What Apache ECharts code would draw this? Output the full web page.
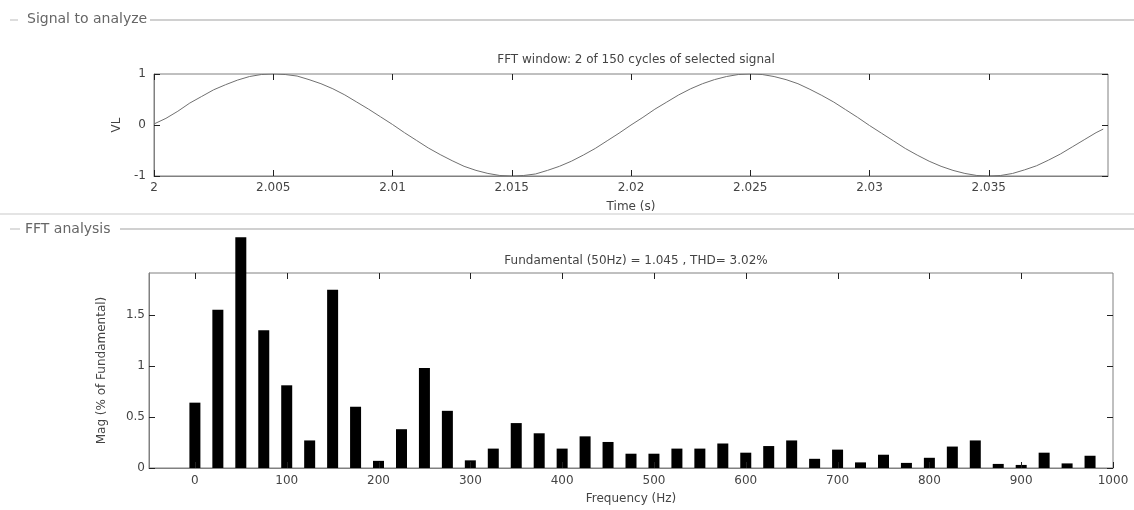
<!DOCTYPE html>
<html>
<head>
<meta charset="utf-8">
<script src="https://cdn.jsdelivr.net/npm/echarts@6/dist/echarts.min.js"></script>
<style>
html,body{margin:0;padding:0;background:#fff;}
#chart{width:1134px;height:510px;}
</style>
</head>
<body>
<div id="chart"></div>
<script>
// ---- Data ----
const timeS = [2.0000,2.0005,2.0010,2.0015,2.0020,2.0025,2.0030,2.0035,2.0040,2.0045,
  2.0050,2.0055,2.0060,2.0065,2.0070,2.0075,2.0080,2.0085,2.0090,2.0095,
  2.0100,2.0105,2.0110,2.0115,2.0120,2.0125,2.0130,2.0135,2.0140,2.0145,
  2.0150,2.0155,2.0160,2.0165,2.0170,2.0175,2.0180,2.0185,2.0190,2.0195,
  2.0200,2.0205,2.0210,2.0215,2.0220,2.0225,2.0230,2.0235,2.0240,2.0245,
  2.0250,2.0255,2.0260,2.0265,2.0270,2.0275,2.0280,2.0285,2.0290,2.0295,
  2.0300,2.0305,2.0310,2.0315,2.0320,2.0325,2.0330,2.0335,2.0340,2.0345,
  2.0350,2.0355,2.0360,2.0365,2.0370,2.0375,2.0380,2.0385,2.0390,2.0395,2.0398];
const signalVL = [0.02,0.13,0.27,0.43,0.56,0.69,0.79,0.88,0.95,0.99,
  1.00,0.99,0.96,0.89,0.81,0.71,0.59,0.45,0.31,0.16,
  0.01,-0.15,-0.30,-0.45,-0.58,-0.70,-0.81,-0.89,-0.95,-0.99,
  -1.00,-0.99,-0.96,-0.89,-0.81,-0.71,-0.59,-0.46,-0.31,-0.16,
  0.00,0.15,0.31,0.45,0.59,0.71,0.81,0.89,0.95,0.99,
  1.00,0.99,0.95,0.89,0.81,0.70,0.58,0.45,0.30,0.15,
  -0.01,-0.16,-0.31,-0.46,-0.59,-0.71,-0.81,-0.89,-0.95,-0.99,
  -1.00,-0.99,-0.95,-0.88,-0.80,-0.69,-0.57,-0.43,-0.29,-0.15,-0.08];
const freqHz = [0,25,50,75,100,125,150,175,200,225,250,275,300,325,350,375,400,425,450,475,
  500,525,550,575,600,625,650,675,700,725,750,775,800,825,850,875,900,925,950,975];
const magPct = [0.64,1.55,2.26,1.35,0.81,0.27,1.745,0.60,0.07,0.38,0.98,0.56,0.075,0.19,0.44,0.34,0.19,0.31,0.255,0.14,
  0.14,0.19,0.19,0.24,0.15,0.215,0.27,0.09,0.18,0.055,0.13,0.05,0.10,0.21,0.27,0.04,0.03,0.15,0.045,0.12];
const timeTicks = [2,2.005,2.01,2.015,2.02,2.025,2.03,2.035];
const timeTickLabels = ['2','2.005','2.01','2.015','2.02','2.025','2.03','2.035'];
const vlTicks = [-1,0,1];
const freqTicks = [0,100,200,300,400,500,600,700,800,900,1000];
const magTicks = [0,0.5,1,1.5];
const magTickLabels = ['0','0.5','1','1.5'];

const T_MIN = 2, T_MAX = 2.04, V_MIN = -1, V_MAX = 1;
const F_MIN = -50, F_MAX = 1000, M_MIN = 0, M_MAX = 1.91;

const FONT = '"DejaVu Sans", Verdana, sans-serif';
const TXT = '#444';
const FRAME = '#808080';
const TICK = '#222';
const FS = 12;
const TL = 6;

const chart = echarts.init(document.getElementById('chart'));

function baseAxis(extra) {
  return Object.assign({
    axisLine: {show: true, onZero: false, lineStyle: {color: FRAME, width: 1}},
    splitLine: {show: false},
    axisTick: {show: false}
  }, extra);
}

const pairLabel = (vals, labels) => (v) => {
  const i = vals.findIndex(t => Math.abs(t - v) < 1e-9);
  return i >= 0 ? labels[i] : '';
};
const plain = (v) => String(v);
const crisp = (p) => Math.round(p) + 0.5;

// inward tick marks drawn through the axes' own scales
function xTickSeries(xi, yi, vals, yMin, yMax, skipTopLast) {
  return {type: 'custom', xAxisIndex: xi, yAxisIndex: yi, silent: true, clip: false, z: 10,
    data: vals.map(v => [v, yMin]),
    renderItem: (params, api) => {
      const v = api.value(0);
      const b = api.coord([v, yMin]), t = api.coord([v, yMax]);
      const x = crisp(b[0]);
      const ch = [{type: 'line', shape: {x1: x, y1: b[1], x2: x, y2: b[1] - TL}, style: {stroke: TICK, lineWidth: 1}}];
      if (!(skipTopLast && params.dataIndex === vals.length - 1))
        ch.push({type: 'line', shape: {x1: x, y1: t[1], x2: x, y2: t[1] + TL}, style: {stroke: TICK, lineWidth: 1}});
      return {type: 'group', children: ch};
    }};
}
function yTickSeries(xi, yi, vals, xMin, xMax) {
  return {type: 'custom', xAxisIndex: xi, yAxisIndex: yi, silent: true, clip: false, z: 10,
    data: vals.map(v => [xMin, v]),
    renderItem: (params, api) => {
      const v = api.value(1);
      const l = api.coord([xMin, v]), r = api.coord([xMax, v]);
      const y = crisp(l[1]);
      return {type: 'group', children: [
        {type: 'line', shape: {x1: l[0], y1: y, x2: l[0] + TL, y2: y}, style: {stroke: TICK, lineWidth: 1}},
        {type: 'line', shape: {x1: r[0], y1: y, x2: r[0] - TL, y2: y}, style: {stroke: TICK, lineWidth: 1}}
      ]};
    }};
}

chart.setOption({
  animation: false,
  backgroundColor: '#fff',
  title: [
    {text: 'FFT window: 2 of 150 cycles of selected signal', left: 631, top: 49, textAlign: 'center',
     textStyle: {fontSize: FS, fontWeight: 'normal', color: TXT, fontFamily: FONT}},
    {text: 'Fundamental (50Hz) = 1.045 , THD= 3.02%', left: 631, top: 250, textAlign: 'center',
     textStyle: {fontSize: FS, fontWeight: 'normal', color: TXT, fontFamily: FONT}}
  ],
  grid: [
    {left: 154, right: 26, top: 74, height: 102, show: true, borderColor: FRAME, borderWidth: 1},
    {left: 149, right: 21, top: 273, height: 195, show: true, borderColor: FRAME, borderWidth: 1}
  ],
  xAxis: [
    baseAxis({type: 'value', gridIndex: 0, min: T_MIN, max: T_MAX,
      axisLabel: {show: true, customValues: timeTicks, formatter: pairLabel(timeTicks, timeTickLabels),
        color: TXT, fontSize: FS, fontFamily: FONT, margin: 6},
      name: 'Time (s)', nameLocation: 'middle', nameGap: 25,
      nameTextStyle: {color: TXT, fontSize: FS, fontFamily: FONT}}),
    baseAxis({type: 'value', gridIndex: 1, min: F_MIN, max: F_MAX,
      axisLabel: {show: true, customValues: freqTicks, formatter: plain, color: TXT, fontSize: FS, fontFamily: FONT, margin: 7},
      name: 'Frequency (Hz)', nameLocation: 'middle', nameGap: 25,
      nameTextStyle: {color: TXT, fontSize: FS, fontFamily: FONT}})
  ],
  yAxis: [
    baseAxis({type: 'value', gridIndex: 0, min: V_MIN, max: V_MAX,
      axisLabel: {show: true, customValues: vlTicks, formatter: plain, color: TXT, fontSize: FS, fontFamily: FONT, margin: 8},
      name: 'VL', nameLocation: 'middle', nameGap: 28,
      nameTextStyle: {color: TXT, fontSize: FS, fontFamily: FONT}}),
    baseAxis({type: 'value', gridIndex: 1, min: M_MIN, max: M_MAX,
      axisLabel: {show: true, customValues: magTicks, formatter: pairLabel(magTicks, magTickLabels),
        color: TXT, fontSize: FS, fontFamily: FONT, margin: 4},
      name: 'Mag (% of Fundamental)', nameLocation: 'middle', nameGap: 41,
      nameTextStyle: {color: TXT, fontSize: FS, fontFamily: FONT}})
  ],
  series: [
    {type: 'line', xAxisIndex: 0, yAxisIndex: 0, showSymbol: false, silent: true,
     lineStyle: {color: '#707070', width: 1},
     data: timeS.map((t, i) => [t, signalVL[i]])},
    {type: 'bar', xAxisIndex: 1, yAxisIndex: 1, barWidth: 11, clip: false, silent: true,
     itemStyle: {color: '#000'},
     data: freqHz.map((f, i) => [f, magPct[i]])},
    xTickSeries(0, 0, timeTicks, V_MIN, V_MAX, false),
    yTickSeries(0, 0, vlTicks, T_MIN, T_MAX),
    xTickSeries(1, 1, freqTicks, M_MIN, M_MAX, true),
    yTickSeries(1, 1, magTicks, F_MIN, F_MAX)
  ],
  graphic: [
    {type: 'line', shape: {x1: 10, y1: 20, x2: 18, y2: 20}, style: {stroke: '#bbb', lineWidth: 1}},
    {type: 'text', x: 27, y: 19, style: {text: 'Signal to analyze', fill: '#666', font: '14px ' + FONT, textVerticalAlign: 'middle'}},
    {type: 'line', shape: {x1: 150, y1: 20, x2: 1134, y2: 20}, style: {stroke: '#d0d0d0', lineWidth: 2}},
    {type: 'line', shape: {x1: 0, y1: 214, x2: 1134, y2: 214}, style: {stroke: '#e4e4e4', lineWidth: 2}},
    {type: 'line', shape: {x1: 10, y1: 229, x2: 20, y2: 229}, style: {stroke: '#bbb', lineWidth: 1}},
    {type: 'text', x: 25, y: 229, style: {text: 'FFT analysis', fill: '#666', font: '14px ' + FONT, textVerticalAlign: 'middle'}},
    {type: 'line', shape: {x1: 120, y1: 229, x2: 1134, y2: 229}, style: {stroke: '#d0d0d0', lineWidth: 2}}
  ]
});
</script>
</body>
</html>
